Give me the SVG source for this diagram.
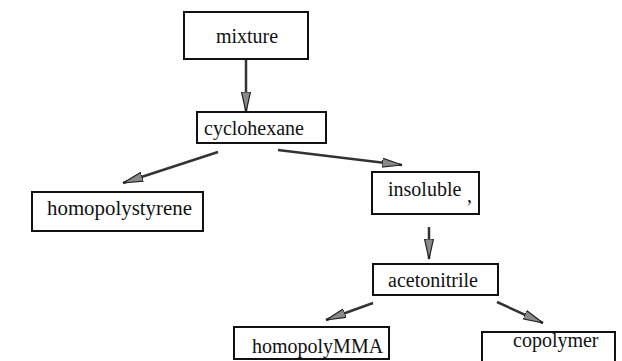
<svg xmlns="http://www.w3.org/2000/svg" width="622" height="361" viewBox="0 0 622 361">
<style>
.box{fill:#fff;stroke:#111;stroke-width:2}
.lbl{font-family:"Liberation Serif","Times New Roman",serif;font-size:20px;fill:#111}
.conn{stroke:#333;stroke-width:2.5;fill:none}
</style>
<defs>
<marker id="ah" markerUnits="userSpaceOnUse" markerWidth="22" markerHeight="12" refX="20" refY="5" orient="auto" viewBox="0 0 22 12">
<path d="M0,0.5 L20,5 L0,9.5 z" fill="#8a8a8a" stroke="#222" stroke-width="1.2"/>
</marker>
</defs>
<rect width="622" height="361" fill="#fff"/>
<g id="connectors">
<line class="conn" x1="246" y1="60" x2="246" y2="112" marker-end="url(#ah)"/>
<line class="conn" x1="218" y1="152" x2="123" y2="183" marker-end="url(#ah)"/>
<line class="conn" x1="278" y1="150" x2="402" y2="165" marker-end="url(#ah)"/>
<line class="conn" x1="429" y1="227" x2="429" y2="259" marker-end="url(#ah)"/>
<line class="conn" x1="373" y1="303" x2="326" y2="320" marker-end="url(#ah)"/>
<line class="conn" x1="497" y1="302" x2="543" y2="323" marker-end="url(#ah)"/>
</g>
<g id="mixture"><rect class="box" x="184" y="12" width="124" height="47"/><text class="lbl" x="247" y="43" text-anchor="middle">mixture</text></g>
<g id="cyclohexane"><rect class="box" x="197" y="112" width="129" height="31"/><text class="lbl" x="254" y="135" text-anchor="middle">cyclohexane</text></g>
<g id="homopolystyrene"><rect class="box" x="32" y="192" width="171" height="39"/><text class="lbl" x="47" y="215" textLength="145" lengthAdjust="spacingAndGlyphs">homopolystyrene</text></g>
<g id="insoluble"><rect class="box" x="372" y="172" width="107" height="42"/><text class="lbl" x="388" y="196">insoluble<tspan x="467" y="202">,</tspan></text></g>
<g id="acetonitrile"><rect class="box" x="373" y="264" width="125" height="31"/><text class="lbl" x="388" y="287">acetonitrile</text></g>
<g id="homopolyMMA"><rect class="box" x="234" y="327" width="155" height="32"/><text class="lbl" x="252" y="353">homopolyMMA</text></g>
<g id="copolymer"><rect class="box" x="482" y="332" width="133" height="40"/><text class="lbl" x="513" y="347">copolymer</text></g>
</svg>
